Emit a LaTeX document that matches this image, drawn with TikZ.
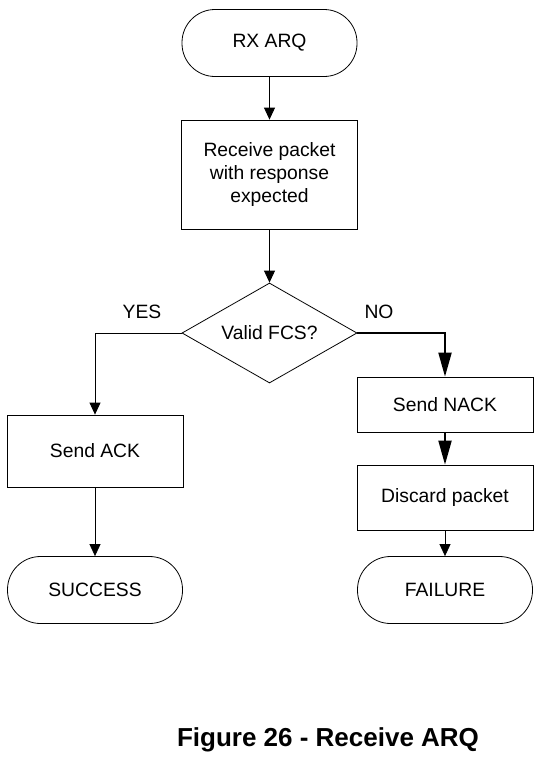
\documentclass[tikz,border=0pt]{standalone}
\usepackage{fontspec}
\setmainfont{Liberation Sans}
\usetikzlibrary{arrows.meta,shapes.geometric}

\begin{document}
\begin{tikzpicture}[x=1pt, y=-1pt, thick, font=\fontsize{19.3}{23}\selectfont,
        term/.style = {draw, rectangle, rounded corners=33pt, minimum width=175pt, minimum height=67pt, inner sep=0pt},
        proc/.style = {draw, rectangle, minimum width=176pt, inner sep=0pt, align=center},
        dec/.style = {draw, diamond, aspect=2, minimum width=175pt, minimum height=100pt, inner sep=0pt},
        arr/.style = {-{Triangle[length=12pt,width=11pt]}},
        bigarr/.style = {line width=2pt, -{Triangle[length=24pt,width=13pt]}}]
        \useasboundingbox (0,0) rectangle (542,758);

        \node[term] (X) at (269.5,43) {RX ARQ};
        \node[proc, minimum height=109pt] (R) at (269.5,174.5) {Receive packet\\with response\\expected};
        \node[dec] (V) at (269.5,333) {Valid FCS?};
        \node[proc, minimum height=72pt] (A) at (95,451) {Send ACK};
        \node[term] (S) at (95,590) {SUCCESS};
        \node[proc, minimum height=55pt] (N) at (445,404.5) {Send NACK};
        \node[proc, minimum height=65pt] (D) at (445,497.5) {Discard packet};
        \node[term] (F) at (445,590) {FAILURE};
        \node (Y) at (142,312) {YES};
        \node (O) at (379,312) {NO};
        \node[font=\fontsize{26}{30}\selectfont\bfseries] (C) at (328,740) {Figure 26 - Receive ARQ};

        \draw[arr] (X) -- (R);
        \draw[arr] (R) -- (V);
        \draw[arr] (V.west) -| (A);
        \draw[bigarr] (V.east) -| (N);
        \draw[arr] (A) -- (S);
        \draw[bigarr] (N) -- (D);
        \draw[arr] (D) -- (F);
    \end{tikzpicture}
\end{document}
